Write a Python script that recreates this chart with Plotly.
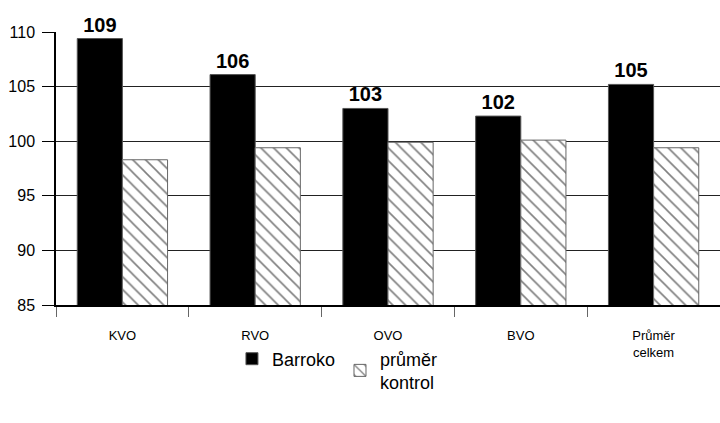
import plotly.graph_objects as go

categories = ["KVO", "RVO", "OVO", "BVO", "Průměr<br>celkem"]
barroko = [109.4, 106.1, 103.0, 102.3, 105.2]
kontrol = [98.3, 99.4, 99.9, 100.1, 99.4]
barroko_labels = ["109", "106", "103", "102", "105"]
y_ticks = [85, 90, 95, 100, 105, 110]

fig = go.Figure()
fig.add_trace(go.Bar(
    x=categories, y=barroko, name="Barroko",
    marker=dict(color="black", line=dict(color="#555", width=1)),
    text=barroko_labels, textposition="outside", cliponaxis=False,
    textfont=dict(family="Liberation Sans, Arial", size=20, color="black", weight="bold"),
))
fig.add_trace(go.Bar(
    x=categories, y=kontrol, name="průměr<br>kontrol",
    marker=dict(color="white", line=dict(color="#666", width=1),
                pattern=dict(shape="\\", fgcolor="black", bgcolor="white", size=9, solidity=0.18)),
))

fig.update_layout(
    width=720, height=423,
    margin=dict(l=56, r=0, t=32, b=118, autoexpand=False),
    paper_bgcolor="white", plot_bgcolor="white",
    barmode="group", bargap=0.32, bargroupgap=0,
    font=dict(family="Liberation Sans, Arial", color="black"),
    showlegend=True,
    legend=dict(orientation="h", x=0.265, xanchor="left", y=-0.13, yanchor="top",
                font=dict(size=18), traceorder="normal", itemwidth=30,
                tracegroupgap=0),
)
fig.update_yaxes(
    range=[85, 110], tickvals=y_ticks, showgrid=True, gridcolor="#222", gridwidth=1,
    showline=True, linecolor="black", linewidth=1.5, automargin=False,
    ticks="outside", ticklen=12, tickcolor="black", tickfont=dict(size=16), zeroline=False,
    ticklabelstandoff=4,
)
fig.update_xaxes(
    showline=True, linecolor="black", linewidth=1.5, automargin=False,
    ticks="outside", ticklen=10, tickcolor="#666", tickson="boundaries",
    tickfont=dict(size=13), showgrid=False, ticklabelstandoff=18,
)
fig.write_html("out.html", config={"displayModeBar": False},
               post_script="document.body.style.margin='0';")
